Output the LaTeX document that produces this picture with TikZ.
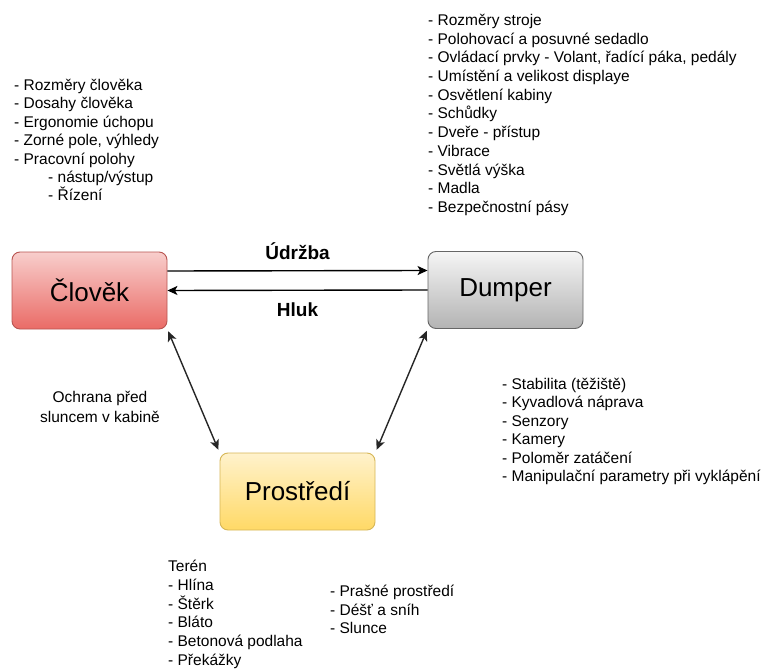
\documentclass[tikz,border=0pt]{standalone}
\usepackage{fontspec}
\setmainfont{Liberation Sans}
\usetikzlibrary{arrows.meta}

\definecolor{redTop}{HTML}{F8CECC}
\definecolor{redBot}{HTML}{EA6B66}
\definecolor{redLine}{HTML}{B85450}
\definecolor{grayTop}{HTML}{F5F5F5}
\definecolor{grayBot}{HTML}{B3B3B3}
\definecolor{grayLine}{HTML}{666666}
\definecolor{yelTop}{HTML}{FFF2CC}
\definecolor{yelBot}{HTML}{FFD966}
\definecolor{yelLine}{HTML}{D6B656}

\tikzset{
  block/.style={rectangle, rounded corners=8pt, minimum width=155pt, minimum height=77pt,
    line width=0.9pt, font=\fontsize{26}{30}\selectfont},
  item/.style={anchor=west, inner sep=0pt, text height=12pt, text depth=3pt,
    font=\fontsize{15.5}{18.7}\selectfont},
  lbl/.style={anchor=base, inner sep=0pt, font=\fontsize{19}{22}\selectfont\bfseries},
  tip/.style={Stealth[length=10pt,width=9pt,inset=2.5pt]},
  arr/.style={line width=1.4pt, -{Stealth[length=10pt,width=9pt,inset=2.5pt]}},
  biarr/.style={line width=1.4pt, color=black!85,
    {Stealth[length=10pt,width=9pt,inset=2.5pt]}-{Stealth[length=10pt,width=9pt,inset=2.5pt]},
    shorten <=2pt, shorten >=3pt}
}

\begin{document}
\begin{tikzpicture}[x=1pt, y=-1pt]
    \useasboundingbox (0,0) rectangle (764,669);

    \def\lineStep{18.7}; % spacing of list lines

    %%% blocks %%%
    \node[block, draw=redLine, top color=redTop, bottom color=redBot] (clovek) at (89.5,290.5) {Člověk};
    \node[block, draw=grayLine, top color=grayTop, bottom color=grayBot] (dumper) at (505.5,290) {Dumper};
    \node[block, draw=yelLine, top color=yelTop, bottom color=yelBot] (prostredi) at (297.5,491.5) {Prostředí};

    %%% connections %%%
    \draw[arr] ([yshift=19.5pt]clovek.east) -- ([yshift=19.5pt]dumper.west)
        node[lbl, midway, yshift=11pt] (udrzba) {Údržba};
    \draw[arr] (dumper.west) -- (clovek.east)
        node[lbl, midway, yshift=-26pt] (hluk) {Hluk};
    \draw[biarr] (clovek.south east) -- (prostredi.north west);
    \draw[biarr] (dumper.south west) -- (prostredi.north east);

    %%% lists %%%
    % clovek
    \foreach \txt [count=\i from 0] in {- Rozměry člověka, - Dosahy člověka, - Ergonomie úchopu,
        {- Zorné pole, výhledy}, - Pracovní polohy}
      \node[item] (cl\i) at (14,{86+\i*18.4}) {\txt};
    \node[item] (cl5) at (48,178) {- nástup/výstup};
    \node[item] (cl6) at (48,196.4) {- Řízení};

    % dumper
    \foreach \txt [count=\i from 0] in {- Rozměry stroje, - Polohovací a posuvné sedadlo,
        {- Ovládací prvky - Volant, řadící páka, pedály}, - Umístění a velikost displaye,
        - Osvětlení kabiny, - Schůdky, - Dveře - přístup, - Vibrace, - Světlá výška,
        - Madla, - Bezpečnostní pásy}
      \node[item] (du\i) at (428,{21+\i*\lineStep}) {\txt};

    % stroj a prostredi
    \foreach \txt [count=\i from 0] in {- Stabilita (těžiště), - Kyvadlová náprava, - Senzory,
        - Kamery, - Poloměr zatáčení, - Manipulační parametry při vyklápění}
      \node[item] (st\i) at (502,{385+\i*18.4}) {\txt};

    % prostredi
    \node[item] (teren) at (168,567) {Terén};
    \foreach \txt [count=\i from 0] in {- Hlína, - Štěrk, - Bláto, - Betonová podlaha, - Překážky}
      \node[item] (te\i) at (168,{586+\i*\lineStep}) {\txt};
    \foreach \txt [count=\i from 0] in {- Prašné prostředí, - Déšť a sníh, - Slunce}
      \node[item] (po\i) at (330,{592+\i*\lineStep}) {\txt};

    % clovek a prostredi
    \node[align=center, inner sep=0pt, font=\fontsize{15.5}{19.5}\selectfont] (ochrana) at (100,407)
        {Ochrana před\\sluncem v kabině};
\end{tikzpicture}
\end{document}
